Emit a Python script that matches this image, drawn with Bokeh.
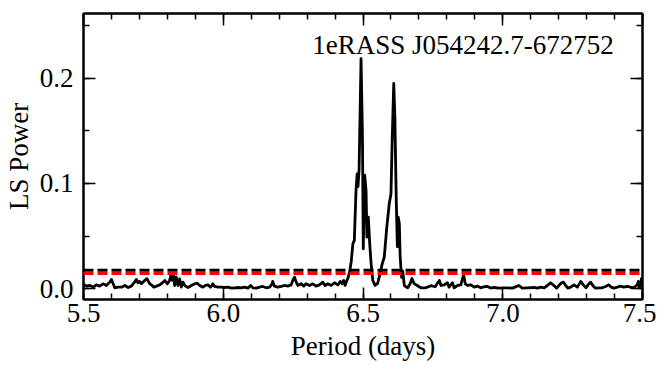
from bokeh.plotting import figure
from bokeh.models import (Range1d, LinearAxis, SingleIntervalTicker, PrintfTickFormatter,
                          Span, Label, ColumnDataSource)
from bokeh.embed import file_html
from bokeh.resources import INLINE

# ---- data ----
period = [
    5.500, 5.502, 5.511, 5.523, 5.535, 5.546, 5.558, 5.570, 5.582, 5.594,
    5.600, 5.606, 5.612, 5.624, 5.636, 5.648, 5.660, 5.671, 5.683, 5.689,
    5.695, 5.701, 5.707, 5.719, 5.727, 5.737, 5.743, 5.752, 5.761, 5.773,
    5.785, 5.791, 5.800, 5.808, 5.814, 5.818, 5.823, 5.826, 5.832, 5.838,
    5.844, 5.850, 5.856, 5.864, 5.874, 5.886, 5.898, 5.907, 5.916, 5.927,
    5.936, 5.945, 5.955, 5.963, 5.969, 5.981, 5.993, 6.005, 6.017, 6.029,
    6.041, 6.052, 6.064, 6.076, 6.088, 6.098, 6.106, 6.118, 6.130, 6.142,
    6.154, 6.166, 6.175, 6.177, 6.183, 6.195, 6.207, 6.219, 6.231, 6.243,
    6.249, 6.255, 6.261, 6.267, 6.279, 6.288, 6.296, 6.308, 6.320, 6.332,
    6.344, 6.356, 6.364, 6.374, 6.386, 6.398, 6.410, 6.419, 6.425, 6.431,
    6.436, 6.441, 6.446, 6.452, 6.458, 6.461, 6.464, 6.469, 6.475, 6.479,
    6.482, 6.486, 6.493, 6.498, 6.501, 6.506, 6.511, 6.514, 6.519, 6.524,
    6.529, 6.535, 6.543, 6.552, 6.561, 6.569, 6.576, 6.585, 6.594, 6.600,
    6.605, 6.610, 6.614, 6.619, 6.623, 6.626, 6.630, 6.633, 6.638, 6.642,
    6.648, 6.660, 6.669, 6.675, 6.683, 6.695, 6.707, 6.725, 6.743, 6.758,
    6.773, 6.779, 6.791, 6.802, 6.808, 6.820, 6.826, 6.838, 6.850, 6.860,
    6.866, 6.874, 6.886, 6.898, 6.910, 6.921, 6.933, 6.945, 6.957, 6.969,
    6.987, 7.005, 7.017, 7.035, 7.058, 7.070, 7.088, 7.112, 7.124, 7.136,
    7.148, 7.160, 7.171, 7.183, 7.193, 7.201, 7.210, 7.217, 7.225, 7.233,
    7.243, 7.255, 7.267, 7.279, 7.288, 7.298, 7.305, 7.314, 7.324, 7.332,
    7.344, 7.356, 7.368, 7.380, 7.388, 7.398, 7.410, 7.421, 7.433, 7.445,
    7.457, 7.469, 7.481, 7.485, 7.489, 7.493, 7.496, 7.500,
]
power = [
    0.0030, 0.0038, 0.0026, 0.0032, 0.0017, 0.0038, 0.0026, 0.0048, 0.0032, 0.0064,
    0.0089, 0.0048, 0.0010, 0.0016, 0.0016, 0.0032, 0.0013, 0.0026, 0.0064, 0.0089,
    0.0058, 0.0071, 0.0048, 0.0080, 0.0096, 0.0048, 0.0038, 0.0016, 0.0026, 0.0038,
    0.0064, 0.0080, 0.0048, 0.0080, 0.0140, 0.0080, 0.0127, 0.0032, 0.0111, 0.0032,
    0.0096, 0.0016, 0.0064, 0.0026, 0.0013, 0.0032, 0.0048, 0.0054, 0.0032, 0.0016,
    0.0032, 0.0038, 0.0016, 0.0048, 0.0023, 0.0016, 0.0016, 0.0013, 0.0016, 0.0007,
    0.0010, 0.0013, 0.0010, 0.0016, 0.0007, 0.0032, 0.0010, 0.0007, 0.0016, 0.0023,
    0.0010, 0.0016, 0.0048, 0.0071, 0.0026, 0.0016, 0.0023, 0.0032, 0.0026, 0.0038,
    0.0083, 0.0111, 0.0064, 0.0032, 0.0048, 0.0026, 0.0048, 0.0032, 0.0048, 0.0026,
    0.0038, 0.0064, 0.0032, 0.0048, 0.0032, 0.0058, 0.0038, 0.0071, 0.0048, 0.0080,
    0.0032, 0.0071, 0.0100, 0.0160, 0.0260, 0.0350, 0.0430, 0.0460, 0.0930, 0.1090,
    0.0970, 0.1130, 0.2185, 0.1470, 0.0380, 0.1080, 0.0930, 0.0490, 0.0680, 0.0430,
    0.0240, 0.0080, 0.0033, 0.0050, 0.0143, 0.0240, 0.0300, 0.0580, 0.0810, 0.0900,
    0.1470, 0.1950, 0.1630, 0.0840, 0.0400, 0.0680, 0.0620, 0.0300, 0.0110, 0.0170,
    0.0030, 0.0011, 0.0050, 0.0098, 0.0050, 0.0030, 0.0010, 0.0010, 0.0030, 0.0020,
    0.0080, 0.0032, 0.0038, 0.0058, 0.0016, 0.0058, 0.0010, 0.0032, 0.0038, 0.0134,
    0.0048, 0.0032, 0.0038, 0.0016, 0.0026, 0.0010, 0.0020, 0.0023, 0.0007, 0.0013,
    0.0007, 0.0010, 0.0010, 0.0007, 0.0032, 0.0007, 0.0010, 0.0013, 0.0007, 0.0016,
    0.0010, 0.0032, 0.0058, 0.0032, 0.0007, 0.0032, 0.0058, 0.0064, 0.0032, 0.0007,
    0.0016, 0.0038, 0.0016, 0.0071, 0.0038, 0.0010, 0.0038, 0.0064, 0.0026, 0.0007,
    0.0010, 0.0010, 0.0023, 0.0038, 0.0016, 0.0007, 0.0016, 0.0026, 0.0016, 0.0023,
    0.0016, 0.0010, 0.0038, 0.0071, 0.0013, 0.0032, 0.0096, 0.0060,
]
threshold_black = 0.0176
threshold_red = 0.0145
title_text = "1eRASS J054242.7-672752"
x_label = "Period (days)"
y_label = "LS Power"

assert len(period) == len(power)

FONT = "Liberation Serif"
FS = "27px"
FS_LABEL = "27px"

p = figure(width=656, height=370, output_backend="svg", toolbar_location=None,
           x_range=Range1d(5.5, 7.5), y_range=Range1d(-0.0101, 0.2613),
           min_border_left=83, min_border_right=14, min_border_top=13, min_border_bottom=71,
           x_axis_label=x_label, y_axis_label=y_label)
p.grid.visible = False
p.background_fill_color = "white"
p.border_fill_color = "white"
p.outline_line_color = "black"
p.outline_line_width = 2

xt = SingleIntervalTicker(interval=0.5, num_minor_ticks=5)
yt = SingleIntervalTicker(interval=0.1, num_minor_ticks=2)


def style_axis(ax, ticker, labels=True):
    ax.ticker = ticker
    ax.formatter = PrintfTickFormatter(format="%.1f")
    ax.axis_line_color = "black"
    ax.axis_line_width = 2
    ax.major_tick_in = 12
    ax.major_tick_out = 0
    ax.minor_tick_in = 6
    ax.minor_tick_out = 0
    ax.major_tick_line_color = "black"
    ax.minor_tick_line_color = "black"
    ax.major_tick_line_width = 1.5
    ax.minor_tick_line_width = 1.5
    ax.major_label_text_font = FONT
    ax.major_label_text_font_size = FS
    ax.major_label_text_color = "black"
    ax.axis_label_text_font = FONT
    ax.axis_label_text_font_size = FS_LABEL
    ax.axis_label_text_font_style = "normal"
    ax.axis_label_text_color = "black"
    if not labels:
        ax.major_label_text_font_size = "1px"
        ax.major_label_text_color = None
        ax.major_label_standoff = 0


style_axis(p.xaxis[0], xt)
style_axis(p.yaxis[0], yt)
p.xaxis[0].major_label_standoff = 4
p.xaxis[0].axis_label_standoff = 6
p.yaxis[0].major_label_standoff = 10
p.yaxis[0].axis_label_standoff = 3

top_ax = LinearAxis()
style_axis(top_ax, SingleIntervalTicker(interval=0.5, num_minor_ticks=5), labels=False)
right_ax = LinearAxis()
style_axis(right_ax, SingleIntervalTicker(interval=0.1, num_minor_ticks=2), labels=False)
p.add_layout(top_ax, "above")
p.add_layout(right_ax, "right")

src = ColumnDataSource(data=dict(period=period, power=power))
p.line("period", "power", source=src, line_color="black", line_width=2.8, line_join="round")

p.add_layout(Span(location=threshold_black, dimension="width", line_color="black",
                  line_width=3, line_dash="10 4"))
p.add_layout(Span(location=threshold_red, dimension="width", line_color="red",
                  line_width=3, line_dash="10 4"))

p.add_layout(Label(x=7.397, y=0.231, text=title_text, text_align="right",
                   text_baseline="alphabetic", text_font=FONT, text_font_size=FS,
                   text_color="black"))

open("out.html", "w").write(file_html(p, INLINE))
